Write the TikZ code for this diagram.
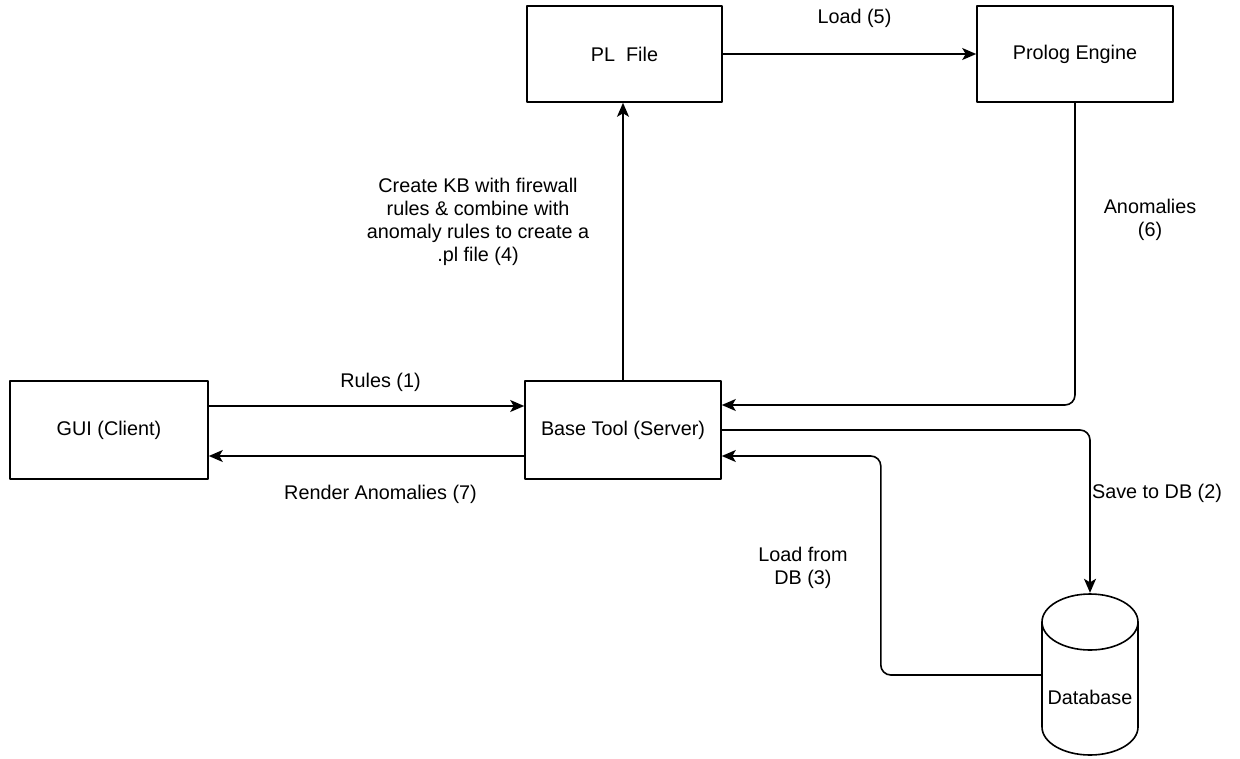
\documentclass[tikz,border=0pt]{standalone}
\usepackage{fontspec}
\setmainfont{Liberation Sans}
\usetikzlibrary{arrows.meta}

\begin{document}
\begin{tikzpicture}[x=1pt, y=-1pt, line cap=round, line join=round,
	box/.style={draw, line width=1.6pt, inner sep=0pt, font=\fontsize{19.8}{23}\selectfont},
	flow/.style={line width=1.6pt, rounded corners=10pt, -{Stealth[length=14pt, width=12pt, inset=3.5pt]}},
	lbl/.style={font=\fontsize{19.8}{23}\selectfont, align=center, inner sep=0pt}]
	
	\useasboundingbox (0,0) rectangle (1240,758);
	
	% Cajas
	\node[box, minimum width=195pt, minimum height=96pt] (pl) at (624.5,54) {PL\ \ File};
	\node[box, minimum width=196pt, minimum height=96pt] (prolog) at (1075,54) {Prolog Engine};
	\node[box, minimum width=198pt, minimum height=98pt] (gui) at (109,430) {GUI (Client)};
	\node[box, minimum width=196pt, minimum height=98pt] (base) at (623,430) {Base Tool (Server)};
	
	% Base de datos (cilindro)
	\draw[line width=1.6pt, fill=white] (1042,622) -- (1042,727) arc[start angle=180, end angle=0, x radius=48, y radius=28] -- (1138,622) arc[start angle=0, end angle=-180, x radius=48, y radius=28] -- cycle;
	\draw[line width=1.6pt] (1042,622) arc[start angle=180, end angle=0, x radius=48, y radius=28];
	\node[lbl, minimum width=96pt, minimum height=164pt] (db) at (1090,675) {};
	\node[lbl] (dbtext) at (1090,697) {Database};
	
	% Flechas entre cliente y servidor
	\draw[flow] ([yshift=24pt]gui.east) -- ([yshift=24pt]base.west)
		node[lbl, midway, above=14pt, xshift=14pt] {Rules (1)};
	\draw[flow] ([yshift=-26pt]base.west) -- ([yshift=-26pt]gui.east)
		node[lbl, midway, below=28pt, xshift=14pt] {Render Anomalies (7)};
	
	% Servidor al fichero .pl y al motor
	\draw[flow] (base.north) -- (base.north |- pl.south);
	\node[lbl] (kb) at (478,222) {Create KB with firewall\\rules \& combine with\\anomaly rules to create a\\.pl file (4)};
	\draw[flow] (pl.east) -- (prolog.west)
		node[lbl, midway, above=26pt, xshift=5pt] {Load (5)};
	\draw[flow] (prolog.south) |- ([yshift=25pt]base.east);
	\node[lbl] (anom) at (1150,220) {Anomalies\\(6)};
	
	% Servidor y base de datos
	\draw[flow] (base.east) -| (db.north);
	\node[lbl] (save) at (1157,493) {Save to DB (2)};
	\draw[flow] (db.west) -- ++(-161,0) |- ([yshift=-26pt]base.east);
	\node[lbl] (loaddb) at (803,568) {Load from\\DB (3)};
	
\end{tikzpicture}
\end{document}
